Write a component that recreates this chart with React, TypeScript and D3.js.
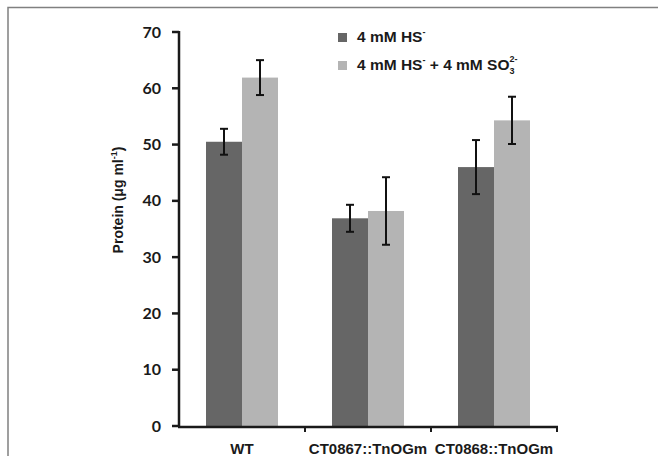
import * as d3 from "d3";

const categories = ["WT", "CT0867::TnOGm", "CT0868::TnOGm"];
const seriesNames = ["hs", "hsSo3"];
const hsValues = [50.5, 36.9, 46.0];
const hsErrors = [2.3, 2.4, 4.8];
const hsSo3Values = [61.9, 38.2, 54.3];
const hsSo3Errors = [3.1, 6.0, 4.2];
const yTicks = [0, 10, 20, 30, 40, 50, 60, 70];

const W = 658;
const H = 456;
const left = 179;
const right = 557;
const top = 32;
const bottom = 426;

const colors = ["#666666", "#b4b4b4"];

export default function App() {
  const y = d3.scaleLinear().domain([0, 70]).range([bottom, top]);
  const x0 = d3.scaleBand().domain(categories).range([left, right]).padding(0);
  const x1 = d3
    .scaleBand()
    .domain(seriesNames)
    .range([0, x0.bandwidth()])
    .paddingInner(0)
    .paddingOuter(0.75);

  const series = [
    { key: "hs", values: hsValues, errors: hsErrors },
    { key: "hsSo3", values: hsSo3Values, errors: hsSo3Errors },
  ];

  const tickFont = "Lato, 'Open Sans', sans-serif";
  const labelFont = "'Liberation Sans', Arial, sans-serif";

  return (
    <svg
      width={W}
      height={H}
      style={{ position: "absolute", left: 0, top: 0, background: "#fff" }}
    >
      {/* frame */}
      <path d={`M8,${H} V7.5 H${W}`} fill="none" stroke="#808080" strokeWidth={1.5} />

      {/* bars */}
      {series.map((s, si) =>
        categories.map((c, ci) => {
          const bx = (x0(c) as number) + (x1(s.key) as number);
          const v = s.values[ci];
          return (
            <rect
              key={s.key + c}
              x={bx}
              y={y(v)}
              width={x1.bandwidth()}
              height={y(0) - y(v)}
              fill={colors[si]}
            />
          );
        })
      )}

      {/* error bars */}
      {series.map((s) =>
        categories.map((c, ci) => {
          const cx = (x0(c) as number) + (x1(s.key) as number) + x1.bandwidth() / 2;
          const v = s.values[ci];
          const e = s.errors[ci];
          return (
            <g key={"e" + s.key + c} stroke="#111" strokeWidth={2}>
              <line x1={cx} x2={cx} y1={y(v + e)} y2={y(v - e)} />
              <line x1={cx - 4} x2={cx + 4} y1={y(v + e)} y2={y(v + e)} />
              <line x1={cx - 4} x2={cx + 4} y1={y(v - e)} y2={y(v - e)} />
            </g>
          );
        })
      )}

      {/* y axis */}
      <line x1={left} x2={left} y1={top - 1} y2={bottom + 1} stroke="#1a1a1a" strokeWidth={2.5} />
      {yTicks.map((t) => (
        <g key={t}>
          <line x1={left - 7} x2={left} y1={y(t)} y2={y(t)} stroke="#1a1a1a" strokeWidth={2.5} />
          <text
            x={161}
            y={y(t) + 5.5}
            textAnchor="end"
            fontFamily={tickFont}
            fontWeight="bold"
            fontSize={16}
            fill="#1a1a1a"
          >
            {t}
          </text>
        </g>
      ))}

      {/* x axis */}
      <line x1={left - 1} x2={right + 1} y1={bottom + 1} y2={bottom + 1} stroke="#1a1a1a" strokeWidth={2.5} />
      {categories.map((c) => {
        const tx = (x0(c) as number) + x0.bandwidth();
        return (
          <line key={"t" + c} x1={tx} x2={tx} y1={bottom} y2={bottom + 6} stroke="#1a1a1a" strokeWidth={2} />
        );
      })}
      {categories.map((c) => (
        <text
          key={"l" + c}
          x={(x0(c) as number) + x0.bandwidth() / 2}
          y={454}
          textAnchor="middle"
          fontFamily={labelFont}
          fontWeight="bold"
          fontSize={15}
          fill="#1a1a1a"
        >
          {c}
        </text>
      ))}

      {/* y label */}
      <text
        transform={`translate(123,200) rotate(-90)`}
        textAnchor="middle"
        fontFamily={labelFont}
        fontWeight="bold"
        fontSize={14}
        fill="#1a1a1a"
      >
        Protein (μg ml
        <tspan fontSize={9} dy={-6}>-1</tspan>
        <tspan dy={6}>)</tspan>
      </text>

      {/* legend */}
      <rect x={338} y={33} width={9} height={9} fill={colors[0]} />
      <text x={357} y={42} fontFamily={labelFont} fontWeight="bold" fontSize={15.5} fill="#1a1a1a">
        4 mM HS
        <tspan fontSize={9} dy={-7}>-</tspan>
      </text>
      <rect x={338} y={61} width={9} height={9} fill={colors[1]} />
      <text x={357} y={70} fontFamily={labelFont} fontWeight="bold" fontSize={15.5} fill="#1a1a1a">
        4 mM HS
        <tspan fontSize={9} dy={-7}>-</tspan>
        <tspan dy={7}> + 4 mM SO</tspan>
        <tspan fontSize={9} dy={4}>3</tspan>
        <tspan fontSize={9} dx={-5} dy={-12}>2-</tspan>
      </text>
    </svg>
  );
}
